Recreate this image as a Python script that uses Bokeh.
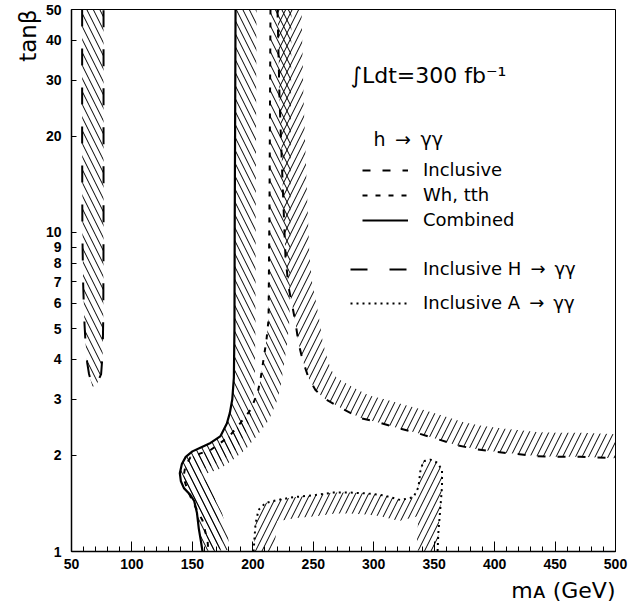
import math

import numpy as np
from bokeh.embed import file_html
from bokeh.models import (FixedTicker, Label, Legend, LegendItem,
                          PrintfTickFormatter, SingleIntervalTicker, Title)
from bokeh.plotting import figure
from bokeh.resources import INLINE

# ---- axis limits ------------------------------------------------------------
X_MIN, X_MAX = 50, 500
Y_MIN, Y_MAX = 1, 50
x_tick_step = 50
y_ticks = [1, 2, 3, 4, 5, 6, 7, 8, 9, 10, 20, 30, 40, 50]

# ---- discovery contours in the (m_A, tan beta) plane ------------------------
# Inclusive H -> gamma gamma (closed contour at low m_A)
hgg_ma = [58.8, 58.8, 59.0, 59.6, 60.5, 61.6, 63.0, 64.5, 67.4, 71.0, 74.5,
          75.8, 76.3, 76.5, 76.5, 76.5]
hgg_tb = [50, 20, 10, 7.0, 5.4, 4.5, 3.9, 3.6, 3.28, 3.35, 3.6,
          4.2, 5.5, 10, 20, 50]

# h -> gamma gamma, combined
comb_ma = [185.7, 185.3, 185.0, 184.8, 184.3, 183.0, 181.0, 178.5, 173.3,
           165.0, 157.0, 150.0, 144.5, 141.3, 139.6, 140.5, 143.0, 148.0,
           151.5, 153.8, 155.3, 157.0, 158.4]
comb_tb = [50, 20, 10, 5.0, 3.5, 3.0, 2.72, 2.52, 2.30,
           2.19, 2.12, 2.06, 1.98, 1.88, 1.76, 1.66, 1.58, 1.51,
           1.44, 1.32, 1.18, 1.08, 1.0]

# h -> gamma gamma, Wh and tth channels
wh_ma = [214.6, 213.8, 213.0, 211.3, 208.8, 206.3, 203.9, 198.1, 189.8,
         181.5, 173.3, 165.0, 156.7, 148.4, 144.3, 142.6, 146.0, 150.9,
         158.4, 162.5, 163.3]
wh_tb = [50, 12.7, 5.33, 4.61, 3.99, 3.45, 3.14, 2.78, 2.53,
         2.32, 2.19, 2.08, 2.03, 1.975, 1.86, 1.71, 1.555, 1.416,
         1.25, 1.083, 1.0]

# h -> gamma gamma, inclusive
incl_ma = [220.4, 222.1, 224.5, 227.0, 229.5, 232.8, 235.3, 237.8, 241.1,
           246.1, 251.8, 258.5, 272.5, 289.1, 305.6, 319.7, 336.2, 352.8,
           369.3, 385.9, 402.4, 418.9, 435.5, 452.0, 471.0, 500.0]
incl_tb = [50, 26.2, 14.7, 8.4, 6.76, 5.85, 5.21, 4.51, 3.99,
           3.50, 3.21, 3.03, 2.82, 2.62, 2.53, 2.44, 2.35, 2.25,
           2.15, 2.09, 2.05, 2.02, 1.99, 1.98, 1.98, 1.96]

# Inclusive A -> gamma gamma
agg_ma = [200.6, 202.2, 204.7, 210.5, 220.4, 233.6, 250.2, 266.7, 280.8,
          294.9, 308.1, 322.2, 332.9, 337.0, 338.7, 341.2, 347.0, 352.5,
          356.5, 356.5, 355.0, 353.5, 352.8]
agg_tb = [1.0, 1.22, 1.35, 1.42, 1.45, 1.48, 1.50, 1.53, 1.53,
          1.52, 1.50, 1.45, 1.48, 1.59, 1.80, 1.92, 1.94, 1.90,
          1.80, 1.60, 1.35, 1.15, 1.0]

# ---- layout -----------------------------------------------------------------
FRAME_W, FRAME_H = 544, 542
B_LEFT, B_RIGHT, B_TOP, B_BOTTOM = 71, 21, 9, 63
LOG_SPAN = math.log10(Y_MAX) - math.log10(Y_MIN)

TICK_FONT = "Liberation Sans"
TEXT_FONT = "DejaVu Sans"
HATCH_SCALE = 13
ARROW = "\u2002\u2192\u2002"   # arrow with en spaces either side
GG = "\u03b3\u03b3"


def hatch_band(ma, tb, width, side):
    """Polygon made of a contour and its copy shifted `width` pixels sideways."""
    sx = (np.asarray(ma, float) - X_MIN) / (X_MAX - X_MIN) * FRAME_W
    sy = -(np.log10(np.asarray(tb, float)) - math.log10(Y_MIN)) / LOG_SPAN * FRAME_H
    dx, dy = np.gradient(sx), np.gradient(sy)
    n = np.hypot(dx, dy)
    ox = sx + side * (-dy / n) * width
    oy = sy + side * (dx / n) * width
    bx = X_MIN + ox / FRAME_W * (X_MAX - X_MIN)
    by = 10 ** (math.log10(Y_MIN) - oy / FRAME_H * LOG_SPAN)
    return list(ma) + list(bx[::-1]), list(tb) + list(by[::-1])


p = figure(frame_width=FRAME_W, frame_height=FRAME_H,
           x_range=(X_MIN, X_MAX), y_range=(Y_MIN, Y_MAX),
           y_axis_type="log", output_backend="svg", toolbar_location=None,
           min_border_left=B_LEFT, min_border_right=B_RIGHT,
           min_border_top=B_TOP, min_border_bottom=B_BOTTOM,
           background_fill_color="white", border_fill_color="white")
p.xgrid.visible = False
p.ygrid.visible = False
p.outline_line_color = "black"
p.outline_line_width = 1

# axes: ticks drawn inward, bold numeric labels
xa = p.xaxis[0]
xa.ticker = SingleIntervalTicker(interval=x_tick_step, num_minor_ticks=5)
xa.major_tick_in, xa.major_tick_out = 10, 0
xa.minor_tick_in, xa.minor_tick_out = 5, 0
xa.major_label_standoff = 7
ya = p.yaxis[0]
ya.ticker = FixedTicker(ticks=y_ticks)
ya.formatter = PrintfTickFormatter(format="%d")
ya.major_tick_in, ya.major_tick_out = 5, 0
ya.minor_tick_in, ya.minor_tick_out = 0, 0
ya.major_label_standoff = 10
for ax in (xa, ya):
    ax.axis_line_width = 1.5
    ax.axis_line_color = "black"
    ax.major_tick_line_color = "black"
    ax.minor_tick_line_color = "black"
    ax.major_label_text_font = TICK_FONT
    ax.major_label_text_font_style = "bold"
    ax.major_label_text_font_size = "14px"
    ax.major_label_text_color = "black"

# axis titles, set at the far ends of their axes
p.add_layout(Title(text="tan\u03b2", align="right", text_font=TEXT_FONT,
                   text_font_size="23px", text_font_style="normal",
                   text_color="black", standoff=4), "left")
p.add_layout(Title(text="m\u1d00 (GeV)", align="right", text_font=TEXT_FONT,
                   text_font_size="22px", text_font_style="normal",
                   text_color="black", standoff=8), "below")

hatch_kw = dict(fill_color=None, line_color=None, hatch_color="black",
                hatch_alpha=1.0, hatch_weight=1, hatch_scale=HATCH_SCALE)

# hatched sides of the contours
p.patch(hgg_ma, hgg_tb, hatch_pattern="\\", **hatch_kw)
bx, by = hatch_band(comb_ma, comb_tb, 21, -1)
p.patch(bx, by, hatch_pattern="\\", **hatch_kw)
bx, by = hatch_band(wh_ma, wh_tb, 21, -1)
p.patch(bx, by, hatch_pattern="\\", **hatch_kw)
bx, by = hatch_band(incl_ma, incl_tb, 24, -1)
p.patch(bx, by, hatch_pattern="/", **hatch_kw)
bx, by = hatch_band(agg_ma, agg_tb, 21, 1)
p.patch(bx, by, hatch_pattern="/", **hatch_kw)

# contour lines
r_h = p.line(hgg_ma, hgg_tb, line_color="black", line_width=2, line_dash="17 22")
r_comb = p.line(comb_ma, comb_tb, line_color="black", line_width=2.2)
r_wh = p.line(wh_ma, wh_tb, line_color="black", line_width=2, line_dash="5 8")
r_incl = p.line(incl_ma, incl_tb, line_color="black", line_width=2, line_dash="8 12")
r_a = p.line(agg_ma, agg_tb, line_color="black", line_width=2, line_dash="2 4")

# legends
leg_common = dict(border_line_alpha=0, background_fill_alpha=0, padding=0,
                  margin=0, label_text_font=TEXT_FONT,
                  label_text_font_size="18px", label_text_color="black",
                  label_height=20, glyph_height=20, label_standoff=15)
leg1 = Legend(items=[LegendItem(label="Inclusive", renderers=[r_incl]),
                     LegendItem(label="Wh, tth", renderers=[r_wh]),
                     LegendItem(label="Combined", renderers=[r_comb])],
              location=(291, 321), glyph_width=46, spacing=4, **leg_common)
leg2 = Legend(items=[LegendItem(label="Inclusive H" + ARROW + GG, renderers=[r_h]),
                     LegendItem(label="Inclusive A" + ARROW + GG, renderers=[r_a])],
              location=(279, 238), glyph_width=58, spacing=13, **leg_common)
p.add_layout(leg1)
p.add_layout(leg2)


def screen_label(x, y, text, size, **kw):
    """Text placed in pixels relative to the bottom-left corner of the frame."""
    p.add_layout(Label(x=x, y=y, x_units="screen", y_units="screen", text=text,
                       text_font=TEXT_FONT, text_font_size=size,
                       text_color="black", **kw))


screen_label(279, 476, "\u222bLdt=300 fb\u207b\u00b9", "22px",
             text_baseline="alphabetic")
screen_label(302, 413, "h" + ARROW + GG, "19px", text_baseline="middle")

open("out.html", "w").write(file_html(p, INLINE))
